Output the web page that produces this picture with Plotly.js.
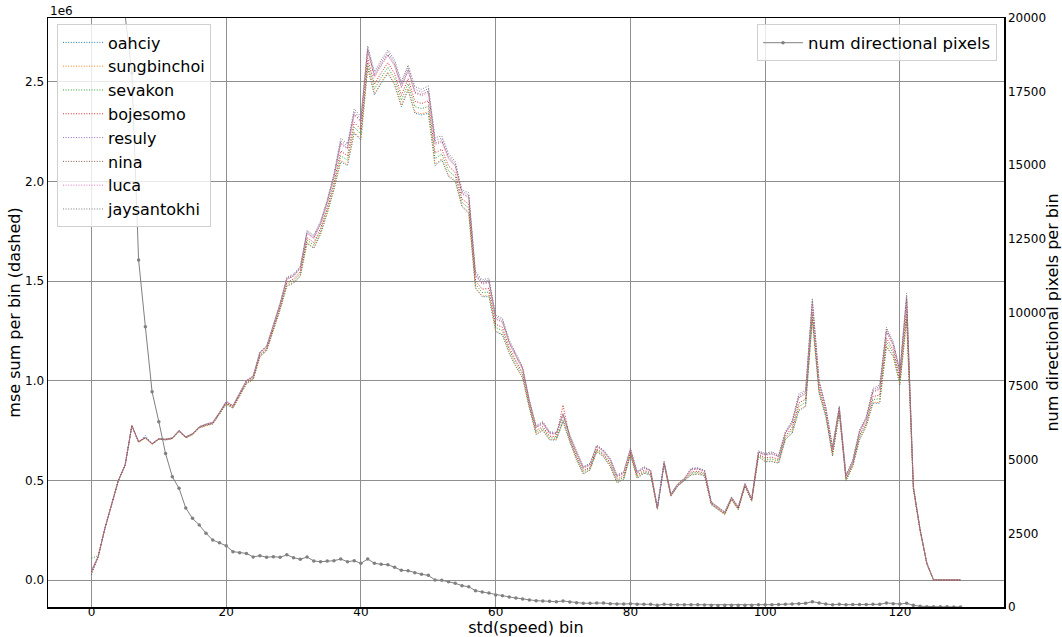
<!DOCTYPE html>
<html><head><meta charset="utf-8">
<script src="https://cdn.plot.ly/plotly-3.0.1.min.js"></script>
<style>html,body{margin:0;padding:0;background:#fff}#chart{width:1062px;height:637px}</style>
</head><body><div id="chart"></div>
<script>
// MSE sum per bin, in units of 1e6, one value per std(speed) bin 0..129
const oahciy = [0.025,0.117,0.26,0.376,0.50,0.577,0.775,0.691,0.725,0.681,
0.706,0.703,0.709,0.746,0.714,0.729,0.763,0.775,0.783,0.832,
0.883,0.862,0.925,0.985,1.005,1.120,1.150,1.255,1.355,1.475,
1.490,1.525,1.690,1.665,1.735,1.840,1.960,2.100,2.080,2.242,
2.209,2.569,2.435,2.493,2.544,2.485,2.376,2.460,2.343,2.334,
2.343,2.080,2.108,2.025,2.000,1.874,1.841,1.464,1.422,1.422,
1.247,1.230,1.138,1.071,1.013,0.862,0.730,0.750,0.703,0.703,
0.795,0.694,0.602,0.532,0.552,0.644,0.619,0.569,0.488,0.505,
0.628,0.510,0.536,0.527,0.355,0.580,0.420,0.470,0.497,0.527,
0.532,0.522,0.378,0.353,0.328,0.403,0.353,0.470,0.395,0.619,
0.594,0.594,0.586,0.705,0.736,0.850,0.870,1.305,0.937,0.820,
0.622,0.837,0.498,0.569,0.703,0.770,0.887,0.887,1.171,1.121,
0.979,1.305,0.455,0.245,0.080,0,0,0,0,0];
const sungbinchoi = [0.035,0.117,0.26,0.376,0.50,0.577,0.775,0.691,0.712,0.681,
0.706,0.703,0.709,0.746,0.714,0.729,0.763,0.775,0.783,0.833,
0.884,0.863,0.926,0.986,1.006,1.121,1.151,1.257,1.357,1.477,
1.492,1.528,1.693,1.668,1.738,1.844,1.964,2.106,2.086,2.248,
2.215,2.575,2.441,2.499,2.550,2.491,2.382,2.466,2.350,2.340,
2.350,2.087,2.114,2.031,2.005,1.878,1.846,1.468,1.426,1.427,
1.251,1.234,1.141,1.074,1.016,0.864,0.732,0.752,0.705,0.705,
0.797,0.696,0.604,0.534,0.554,0.646,0.621,0.571,0.490,0.507,
0.630,0.512,0.538,0.528,0.356,0.581,0.421,0.471,0.498,0.529,
0.534,0.524,0.379,0.354,0.329,0.404,0.354,0.471,0.396,0.620,
0.596,0.597,0.588,0.707,0.739,0.854,0.874,1.310,0.940,0.823,
0.624,0.839,0.499,0.571,0.706,0.773,0.891,0.892,1.176,1.125,
0.983,1.312,0.456,0.246,0.080,0,0,0,0,0];
const sevakon = [0.109,0.122,0.26,0.376,0.50,0.577,0.775,0.692,0.713,0.682,
0.707,0.704,0.710,0.747,0.715,0.731,0.765,0.777,0.785,0.835,
0.887,0.866,0.929,0.990,1.010,1.126,1.156,1.263,1.364,1.486,
1.501,1.538,1.706,1.681,1.751,1.858,1.980,2.129,2.108,2.273,
2.238,2.597,2.464,2.522,2.573,2.516,2.408,2.491,2.376,2.366,
2.377,2.115,2.138,2.054,2.025,1.895,1.867,1.485,1.443,1.445,
1.268,1.251,1.155,1.088,1.028,0.873,0.741,0.761,0.714,0.712,
0.806,0.703,0.613,0.541,0.561,0.653,0.628,0.580,0.498,0.515,
0.636,0.519,0.544,0.533,0.358,0.584,0.423,0.473,0.500,0.536,
0.540,0.530,0.382,0.357,0.332,0.407,0.357,0.474,0.399,0.626,
0.605,0.607,0.597,0.715,0.752,0.871,0.891,1.332,0.954,0.833,
0.634,0.846,0.505,0.577,0.716,0.783,0.906,0.910,1.196,1.140,
0.998,1.339,0.459,0.248,0.081,0,0,0,0,0];
const bojesomo = [0.040,0.117,0.26,0.376,0.50,0.577,0.775,0.693,0.714,0.683,
0.708,0.705,0.711,0.748,0.716,0.732,0.766,0.779,0.787,0.837,
0.889,0.868,0.933,0.993,1.014,1.131,1.161,1.269,1.371,1.495,
1.510,1.548,1.719,1.694,1.764,1.872,1.996,2.153,2.130,2.297,
2.262,2.619,2.488,2.546,2.597,2.541,2.433,2.516,2.403,2.392,
2.405,2.143,2.162,2.078,2.045,1.912,1.887,1.502,1.460,1.464,
1.284,1.268,1.168,1.101,1.039,0.881,0.750,0.770,0.722,0.720,
0.878,0.709,0.621,0.549,0.567,0.659,0.634,0.588,0.506,0.523,
0.643,0.525,0.551,0.538,0.360,0.587,0.425,0.475,0.503,0.542,
0.546,0.536,0.384,0.359,0.334,0.409,0.359,0.476,0.401,0.632,
0.613,0.617,0.605,0.723,0.765,0.888,0.908,1.354,0.967,0.843,
0.643,0.853,0.511,0.584,0.726,0.793,0.921,0.928,1.215,1.155,
1.013,1.365,0.462,0.250,0.082,0,0,0,0,0];
const resuly = [0.045,0.117,0.26,0.376,0.50,0.577,0.775,0.695,0.716,0.685,
0.710,0.707,0.714,0.751,0.719,0.734,0.769,0.782,0.791,0.841,
0.896,0.875,0.940,1.001,1.023,1.143,1.173,1.282,1.387,1.516,
1.531,1.570,1.749,1.724,1.794,1.903,2.032,2.205,2.179,2.352,
2.314,2.670,2.540,2.598,2.649,2.598,2.489,2.573,2.463,2.450,
2.466,2.206,2.217,2.130,2.090,1.950,1.934,1.540,1.498,1.506,
1.322,1.306,1.198,1.131,1.065,0.900,0.771,0.791,0.741,0.736,
0.833,0.725,0.640,0.565,0.583,0.675,0.650,0.607,0.523,0.540,
0.658,0.541,0.566,0.550,0.364,0.594,0.431,0.481,0.509,0.558,
0.561,0.549,0.391,0.366,0.341,0.416,0.366,0.483,0.408,0.645,
0.632,0.639,0.624,0.741,0.794,0.927,0.946,1.403,0.997,0.865,
0.664,0.869,0.524,0.599,0.748,0.815,0.955,0.970,1.259,1.189,
1.047,1.426,0.469,0.254,0.085,0,0,0,0,0];
const nina = [0.040,0.117,0.26,0.376,0.50,0.577,0.775,0.694,0.715,0.684,
0.709,0.706,0.713,0.750,0.718,0.734,0.769,0.781,0.790,0.840,
0.894,0.873,0.939,0.999,1.021,1.140,1.170,1.279,1.383,1.511,
1.526,1.565,1.742,1.717,1.787,1.896,2.024,2.194,2.168,2.340,
2.303,2.659,2.529,2.587,2.638,2.585,2.477,2.560,2.449,2.437,
2.453,2.192,2.205,2.119,2.080,1.941,1.923,1.531,1.489,1.496,
1.313,1.297,1.192,1.125,1.059,0.896,0.766,0.786,0.737,0.733,
0.829,0.721,0.636,0.562,0.579,0.671,0.646,0.603,0.519,0.536,
0.654,0.537,0.562,0.547,0.363,0.592,0.430,0.480,0.507,0.554,
0.558,0.546,0.389,0.364,0.339,0.414,0.364,0.481,0.406,0.642,
0.628,0.634,0.620,0.737,0.787,0.918,0.937,1.392,0.991,0.860,
0.660,0.866,0.521,0.595,0.743,0.810,0.947,0.961,1.249,1.181,
1.039,1.412,0.467,0.253,0.084,0,0,0,0,0];
const luca = [0.045,0.117,0.26,0.376,0.50,0.577,0.775,0.694,0.715,0.684,
0.709,0.706,0.713,0.750,0.718,0.734,0.768,0.781,0.790,0.840,
0.894,0.873,0.938,0.999,1.020,1.139,1.169,1.278,1.381,1.509,
1.524,1.563,1.739,1.714,1.784,1.893,2.020,2.188,2.163,2.334,
2.297,2.653,2.523,2.581,2.632,2.579,2.471,2.554,2.443,2.431,
2.446,2.185,2.199,2.113,2.075,1.937,1.918,1.527,1.485,1.492,
1.309,1.293,1.188,1.121,1.057,0.894,0.764,0.784,0.735,0.731,
0.827,0.720,0.634,0.560,0.578,0.670,0.645,0.601,0.517,0.534,
0.653,0.536,0.561,0.546,0.363,0.591,0.429,0.479,0.507,0.553,
0.556,0.545,0.389,0.364,0.339,0.414,0.364,0.481,0.406,0.641,
0.626,0.632,0.618,0.735,0.784,0.914,0.933,1.387,0.987,0.858,
0.657,0.864,0.520,0.594,0.741,0.808,0.943,0.956,1.245,1.177,
1.035,1.406,0.466,0.253,0.084,0,0,0,0,0];
const jaysantokhi = [0.050,0.117,0.26,0.376,0.50,0.577,0.775,0.695,0.716,0.685,
0.710,0.707,0.714,0.751,0.719,0.735,0.770,0.783,0.792,0.842,
0.897,0.876,0.942,1.003,1.025,1.145,1.175,1.285,1.390,1.520,
1.535,1.575,1.755,1.730,1.800,1.910,2.040,2.217,2.190,2.364,
2.326,2.681,2.552,2.610,2.661,2.610,2.502,2.585,2.476,2.463,
2.480,2.220,2.229,2.142,2.100,1.958,1.944,1.548,1.506,1.515,
1.330,1.314,1.205,1.138,1.071,0.904,0.775,0.795,0.745,0.740,
0.837,0.728,0.644,0.569,0.586,0.678,0.653,0.611,0.527,0.544,
0.661,0.544,0.569,0.552,0.365,0.595,0.432,0.482,0.510,0.561,
0.564,0.552,0.392,0.367,0.342,0.417,0.367,0.484,0.409,0.648,
0.636,0.644,0.628,0.745,0.800,0.935,0.954,1.414,1.004,0.870,
0.669,0.873,0.527,0.602,0.753,0.820,0.962,0.979,1.269,1.196,
1.054,1.439,0.470,0.255,0.085,0,0,0,0,0];
// number of directional pixels per bin (right axis)
const numDirectionalPixels = [62000,51000,41000,33000,26000,20100,18120,11780,9520,7310,
6290,5210,4425,4030,3360,3010,2785,2503,2275,2183,
2080,1880,1845,1820,1700,1742,1690,1708,1688,1770,
1674,1620,1698,1562,1538,1562,1572,1630,1538,1572,
1484,1630,1484,1450,1436,1348,1246,1233,1165,1110,
1076,917,907,859,805,723,689,553,509,475,
407,384,343,306,272,238,214,204,194,180,
204,170,146,126,126,136,136,112,102,102,
112,92,92,92,58,92,78,78,78,78,
78,70,58,55,58,58,58,58,58,78,
78,78,85,92,100,112,126,180,136,102,
78,92,78,85,85,85,92,92,136,112,
102,126,58,24,10,8,6,5,4,3];
const seriesNames = ['oahciy','sungbinchoi','sevakon','bojesomo','resuly','nina','luca','jaysantokhi'];
const seriesValues = [oahciy,sungbinchoi,sevakon,bojesomo,resuly,nina,luca,jaysantokhi];
const seriesColors = ['#1f77b4','#ff7f0e','#2ca02c','#d62728','#9467bd','#8c564b','#e377c2','#7f7f7f'];
const bins = numDirectionalPixels.map((_, i) => i);
const xTicks = [0,20,40,60,80,100,120];
const yTicks = [0,0.5,1.0,1.5,2.0,2.5];
const yTickText = ['0.0','0.5','1.0','1.5','2.0','2.5'];
const y2Ticks = [0,2500,5000,7500,10000,12500,15000,17500,20000];
const xRange = [-6.45, 135.45];

const traces = seriesNames.map((name, k) => ({
  type: 'scatter', mode: 'lines', name: name, x: bins, y: seriesValues[k],
  line: {color: seriesColors[k], width: 1, dash: '1px,1.6px'},
  legend: 'legend', xaxis: 'x', yaxis: 'y'
}));
traces.push({
  type: 'scatter', mode: 'lines+markers', name: 'num directional pixels',
  x: bins, y: numDirectionalPixels, xaxis: 'x', yaxis: 'y2',
  line: {color: '#808080', width: 1}, marker: {color: '#808080', size: 3.5},
  legend: 'legend2', cliponaxis: true
});
// empty helper trace so the tick-label axis (x2) is drawn
traces.push({type: 'scatter', mode: 'lines', x: [], y: [], xaxis: 'x2', yaxis: 'y',
  showlegend: false, hoverinfo: 'skip'});

const layout = {
  width: 1062, height: 637,
  margin: {l: 48, r: 58, t: 18, b: 30, pad: 0},
  paper_bgcolor: '#fff', plot_bgcolor: '#fff',
  font: {family: 'DejaVu Sans, sans-serif', size: 12, color: '#000'},
  showlegend: true,
  xaxis: {
    range: xRange, tickvals: xTicks, ticks: '', showgrid: true,
    gridcolor: '#8f8f8f', gridwidth: 1, zeroline: false, showticklabels: false,
    showline: true, linecolor: '#000', linewidth: 1.5, mirror: true
  },
  xaxis2: {
    overlaying: 'x', anchor: 'free', position: 0.006, side: 'bottom',
    range: xRange, tickvals: xTicks, ticks: '', showgrid: false, zeroline: false,
    showline: false, tickfont: {size: 12},
    title: {text: 'std(speed) bin', font: {size: 16}}
  },
  yaxis: {
    range: [-0.1355, 2.821], tickvals: yTicks, ticktext: yTickText, ticks: '',
    showgrid: true, gridcolor: '#8f8f8f', gridwidth: 1, zeroline: false,
    showline: true, linecolor: '#000', linewidth: 1.5, mirror: true,
    tickfont: {size: 12},
    title: {text: 'mse sum per bin (dashed)', font: {size: 16}, standoff: 0}
  },
  yaxis2: {
    overlaying: 'y', side: 'right', range: [0, 20000], tickvals: y2Ticks,
    tickformat: 'd', ticks: '', showgrid: false, zeroline: false,
    showline: true, linecolor: '#000', linewidth: 1.5,
    tickfont: {size: 12},
    title: {text: 'num directional pixels per bin', font: {size: 16}, standoff: 8}
  },
  legend: {
    x: 0.0094, y: 0.989, xanchor: 'left', yanchor: 'top',
    bgcolor: 'rgba(255,255,255,0.8)', bordercolor: '#d0d0d0', borderwidth: 1,
    font: {size: 16}, itemwidth: 40, tracegroupgap: 0
  },
  legend2: {
    x: 0.9927, y: 0.989, xanchor: 'right', yanchor: 'top',
    bgcolor: 'rgba(255,255,255,0.8)', bordercolor: '#d0d0d0', borderwidth: 1,
    font: {size: 16.5}, itemwidth: 40
  },
  annotations: [{
    xref: 'paper', yref: 'paper', x: 0, y: 1, xanchor: 'left', yanchor: 'bottom',
    text: '1e6', showarrow: false, font: {size: 12}, yshift: -2
  }]
};
Plotly.newPlot('chart', traces, layout, {displayModeBar: false, staticPlot: true});
</script>
</body></html>
